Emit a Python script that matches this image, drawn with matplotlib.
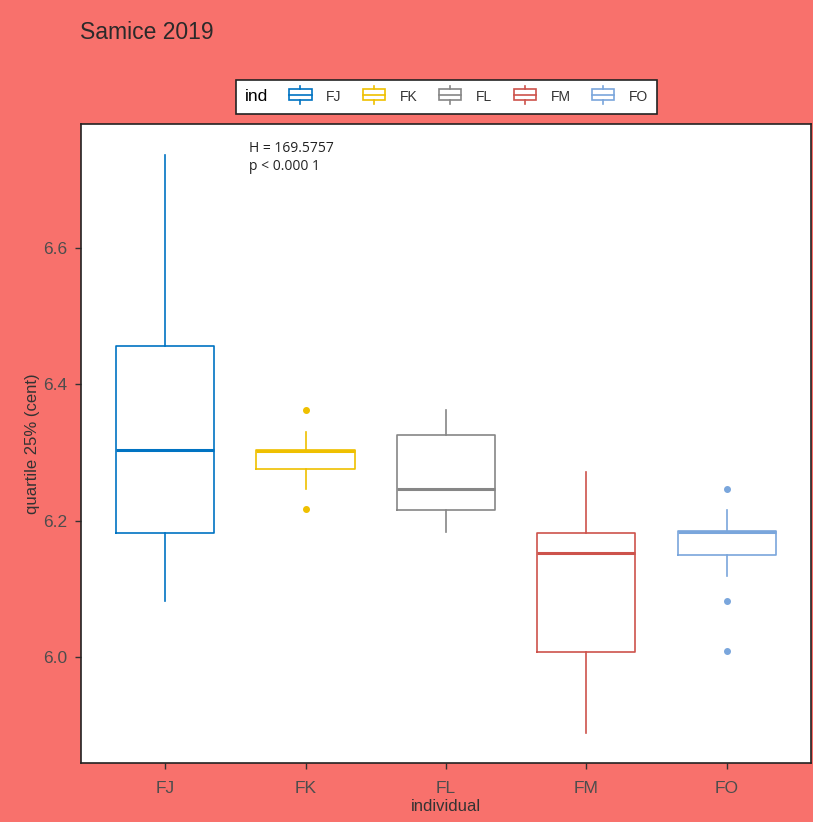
import matplotlib
matplotlib.use("Agg")
import matplotlib.pyplot as plt
from matplotlib.legend_handler import HandlerBase
from matplotlib.patches import Rectangle
from matplotlib.lines import Line2D

plt.rcParams["font.family"] = ["Liberation Sans", "DejaVu Sans"]

# data
groups = ["FJ", "FK", "FL", "FM", "FO"]
colors = ["#0073C2", "#EFC000", "#868686", "#CD534C", "#7AA6DC"]
q1 = [6.181, 6.275, 6.215, 6.007, 6.150]
med = [6.303, 6.302, 6.247, 6.153, 6.183]
q3 = [6.456, 6.304, 6.325, 6.182, 6.184]
whislo = [6.082, 6.246, 6.183, 5.888, 6.119]
whishi = [6.736, 6.330, 6.362, 6.271, 6.216]
fliers = [[], [6.362, 6.217], [], [], [6.246, 6.082, 6.009]]

bg = "#F8716C"

fig = plt.figure(figsize=(8.13, 8.22), dpi=100, facecolor=bg)
ax = fig.add_axes([0.0996, 0.0718, 0.8979, 0.7772])
ax.set_facecolor("white")

for i, g in enumerate(groups):
    st = dict(med=med[i], q1=q1[i], q3=q3[i], whislo=whislo[i], whishi=whishi[i], fliers=fliers[i], label=g)
    c = colors[i]
    ax.bxp([st], positions=[i + 1], widths=0.7, showcaps=False,
           boxprops=dict(color=c, lw=1.2),
           whiskerprops=dict(color=c, lw=1.2),
           medianprops=dict(color=c, lw=2.2, solid_capstyle="butt"),
           flierprops=dict(marker="o", markerfacecolor=c, markeredgecolor=c, markersize=4))

ax.set_xlim(0.4, 5.6)
ax.set_ylim(5.844, 6.782)
ax.set_yticks([6.0, 6.2, 6.4, 6.6])
ax.set_yticklabels(["6.0", "6.2", "6.4", "6.6"])
ax.set_xticks(range(1, 6))
ax.set_xticklabels(groups)
ax.tick_params(colors="#333333", labelcolor="#4D4D4D", labelsize=12.5, length=4, width=1)
ax.tick_params(axis="x", pad=9)
ax.tick_params(axis="y", pad=6)
for s in ax.spines.values():
    s.set_color("#222222")
    s.set_linewidth(1.2)
ax.set_xlabel("individual", fontsize=12, color="#333333", labelpad=2)
ax.set_ylabel("quartile 25% (cent)", fontsize=12, color="#333333", labelpad=2)

ax.text(1.6, 6.757, "H = 169.5757\np < 0.000 1", fontsize=10, va="top", ha="left", color="#222222",
        linespacing=1.3, family="Open Sans")

fig.text(0.099, 0.960, "Samice 2019", fontsize=16.5, color="#2a2a2a", va="center")


class BoxHandler(HandlerBase):
    def create_artists(self, legend, orig, x0, y0, w, h, fontsize, trans):
        c = orig.get_color()
        bw = w * 0.95
        bx = x0 + (w - bw) / 2
        r = Rectangle((bx, y0), bw, h, fill=False, edgecolor=c, lw=1.2, transform=trans)
        m = Line2D([bx, bx + bw], [y0 + h * 0.5] * 2, color=c, lw=1.2, transform=trans)
        t = Line2D([x0 + w / 2] * 2, [y0 + h, y0 + h * 1.3], color=c, lw=1.2, transform=trans)
        b = Line2D([x0 + w / 2] * 2, [y0, y0 - h * 0.3], color=c, lw=1.2, transform=trans)
        return [r, m, t, b]


handles = [Line2D([], [], color=c) for c in colors]
leg = fig.legend(handles, groups, handler_map={Line2D: BoxHandler()}, ncol=5, loc="center",
                 bbox_to_anchor=(0.549, 0.882), frameon=True, fancybox=False, fontsize=10,
                 title="ind", title_fontsize=12.5, handlelength=1.7, handleheight=0.85,
                 handletextpad=1.0, columnspacing=1.5, borderpad=0.65, framealpha=1)
leg.get_frame().set_edgecolor("#222222")
leg.get_frame().set_linewidth(1.2)
for t in leg.get_texts():
    t.set_color("#333333")
# move title to the left of the entries
vbox = leg.get_children()[0]
title_box, hbox = vbox.get_children()
vbox._children = [hbox]
hbox._children = [title_box] + hbox.get_children()
hbox.align = "center"

fig.savefig("out.png", dpi=100, facecolor=bg)
